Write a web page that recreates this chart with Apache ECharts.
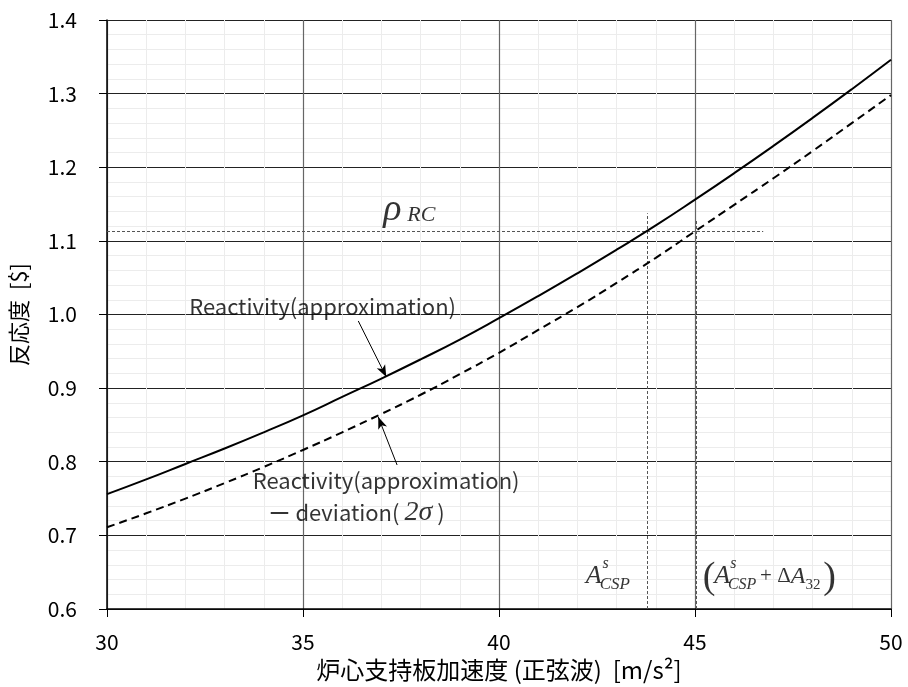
<!DOCTYPE html>
<html>
<head>
<meta charset="utf-8">
<script src="https://cdn.jsdelivr.net/npm/echarts@6/dist/echarts.min.js"></script>
<style>html,body{margin:0;padding:0;background:#fff}#c{width:908px;height:687px}</style>
</head>
<body>
<div id="c"></div>
<script>
// ---- data ----
const xValues = [30,31,32,33,34,35,36,37,38,39,40,41,42,43,44,45,46,47,48,49,50];
const reactivity = [0.756,0.776,0.797,0.818,0.840,0.863,0.888,0.913,0.939,0.966,0.995,1.025,1.056,1.088,1.121,1.156,1.192,1.229,1.267,1.306,1.346];
const reactivityMinus2s = [0.711,0.730,0.750,0.771,0.793,0.816,0.840,0.865,0.891,0.919,0.948,0.979,1.010,1.043,1.077,1.113,1.149,1.185,1.222,1.260,1.298];
const rhoRC = 1.1135;
const rhoLineEnd = 46.74;
const aCSP = 43.78, aCSPTop = 1.1375;
const aCSPplus = 45.03, aCSPplusTop = 1.127;
const xTicks = [30,35,40,45,50];
const yTicks = [0.6,0.7,0.8,0.9,1.0,1.1,1.2,1.3,1.4];

const SANS = "'Noto Sans CJK JP', 'Noto Sans', sans-serif";
const SERIF = "'Liberation Serif', 'DejaVu Serif', serif";

const solidPts = xValues.map((x,i)=>[x, reactivity[i]]);
const dashPts = xValues.map((x,i)=>[x, reactivityMinus2s[i]]);

// annotation pieces (data coordinates)
const annotations = [
  {at:[35.50,1.0102], text:'Reactivity(approximation)', align:'center', font:SANS, size:22, style:'normal'},
  {at:[37.12,0.7739], text:'Reactivity(approximation)', align:'center', font:SANS, size:22, style:'normal'},
  {at:[34.12,0.7304], rich:'{s|ー deviation( }{g|2σ}{s| )}', align:'left'},
  {at:[37.05,1.142], text:'ρ', align:'left', font:SERIF, size:38, style:'italic'},
  {at:[37.66,1.1345], text:'RC', align:'left', font:SERIF, size:22, style:'italic'},
  {at:[42.21,0.6448], text:'A', align:'left', font:SERIF, size:26, style:'italic'},
  {at:[42.64,0.6610], text:'s', align:'left', font:SERIF, size:16, style:'italic'},
  {at:[42.57,0.6330], text:'CSP', align:'left', font:SERIF, size:17, style:'italic'},
  {at:[45.20,0.6420], text:'(', align:'left', font:SERIF, size:38, style:'normal'},
  {at:[45.49,0.6448], text:'A', align:'left', font:SERIF, size:26, style:'italic'},
  {at:[45.90,0.6610], text:'s', align:'left', font:SERIF, size:16, style:'italic'},
  {at:[45.84,0.6330], text:'CSP', align:'left', font:SERIF, size:16, style:'italic'},
  {at:[46.66,0.6435], rich:'{n|+ Δ}{i|A}', align:'left'},
  {at:[47.82,0.6320], text:'32', align:'left', font:SERIF, size:15, style:'normal'},
  {at:[48.27,0.6420], text:')', align:'left', font:SERIF, size:38, style:'normal'}
];
const arrows = [
  [[36.41,0.9912],[37.125,0.9151]],
  [[37.40,0.7956],[36.92,0.8608]]
];

const chart = echarts.init(document.getElementById('c'));
const annoData = annotations.map(a => {
  const label = {show:true, position:'inside', align:a.align, verticalAlign:'middle', color:'#000'};
  if (a.rich) {
    label.formatter = a.rich;
    label.rich = {
      s:{fontFamily:SANS, fontSize:22, color:'#000'},
      g:{fontFamily:SERIF, fontSize:28, fontStyle:'italic', color:'#000'},
      n:{fontFamily:SERIF, fontSize:21, color:'#000'},
      i:{fontFamily:SERIF, fontSize:24, fontStyle:'italic', color:'#000'}
    };
  } else {
    label.formatter = a.text;
    label.fontFamily = a.font; label.fontSize = a.size; label.fontStyle = a.style;
  }
  return {value:a.at, label:label};
});

chart.setOption({
  animation:false,
  backgroundColor:'#fff',
  grid:{left:105, right:17, top:20, bottom:78, containLabel:false},
  xAxis:{
    type:'value', min:30, max:50, interval:5,
    name:'炉心支持板加速度 (正弦波)  [m/s²]', nameLocation:'middle', nameGap:47,
    nameTextStyle:{fontFamily:SANS, fontSize:24, color:'#000'},
    axisLine:{show:true, onZero:false, lineStyle:{color:'#000', width:1.5}},
    axisTick:{show:true, inside:false, length:8, lineStyle:{color:'#000'}},
    axisLabel:{fontFamily:SANS, fontSize:21, color:'#000', margin:23},
    splitLine:{show:true, lineStyle:{color:'#666', width:1.2}},
    minorTick:{show:false, splitNumber:5},
    minorSplitLine:{show:true, lineStyle:{color:'#ececec', width:1}}
  },
  yAxis:{
    type:'value', min:0.6, max:1.4, interval:0.1,
    name:'反応度  [$]', nameLocation:'middle', nameGap:77, nameRotate:90,
    nameTextStyle:{fontFamily:SANS, fontSize:22, color:'#000'},
    axisLine:{show:true, onZero:false, lineStyle:{color:'#000', width:1.5}},
    axisTick:{show:true, inside:false, length:8, lineStyle:{color:'#000'}},
    axisLabel:{fontFamily:SANS, fontSize:21, color:'#000', margin:30,
      formatter:v=>{const t=yTicks.find(y=>Math.abs(y-v)<1e-6); return (t!==undefined?t:v).toFixed(1);}},
    splitLine:{show:true, lineStyle:{color:'#222', width:1.2}},
    minorTick:{show:false, splitNumber:5},
    minorSplitLine:{show:true, lineStyle:{color:'#ececec', width:1}}
  },
  series:[
    {
      type:'line', name:'reactivity', data:solidPts, smooth:true, showSymbol:false,
      lineStyle:{color:'#000', width:2}, z:5,
      markLine:{
        silent:true, symbol:['none','none'], label:{show:false},
        lineStyle:{color:'#555', width:1, type:[3,2]},
        data:[
          [{coord:[30,rhoRC]},{coord:[rhoLineEnd,rhoRC]}],
          [{coord:[aCSP,0.6]},{coord:[aCSP,aCSPTop]}],
          [{coord:[aCSPplus,0.6]},{coord:[aCSPplus,aCSPplusTop]}]
        ]
      }
    },
    {
      type:'line', name:'minus2s', data:dashPts, smooth:true, showSymbol:false,
      lineStyle:{color:'#000', width:2, type:[8,5]}, z:5,
      markLine:{
        silent:true, symbol:['none','arrow'], symbolSize:[7,12], label:{show:false},
        lineStyle:{color:'#000', width:1, type:'solid'},
        data: arrows.map(a=>[{coord:a[0]},{coord:a[1]}])
      }
    },
    {
      type:'scatter', name:'annotations', symbolSize:0, data:annoData, z:10, silent:true
    }
  ]
});
</script>
</body>
</html>
